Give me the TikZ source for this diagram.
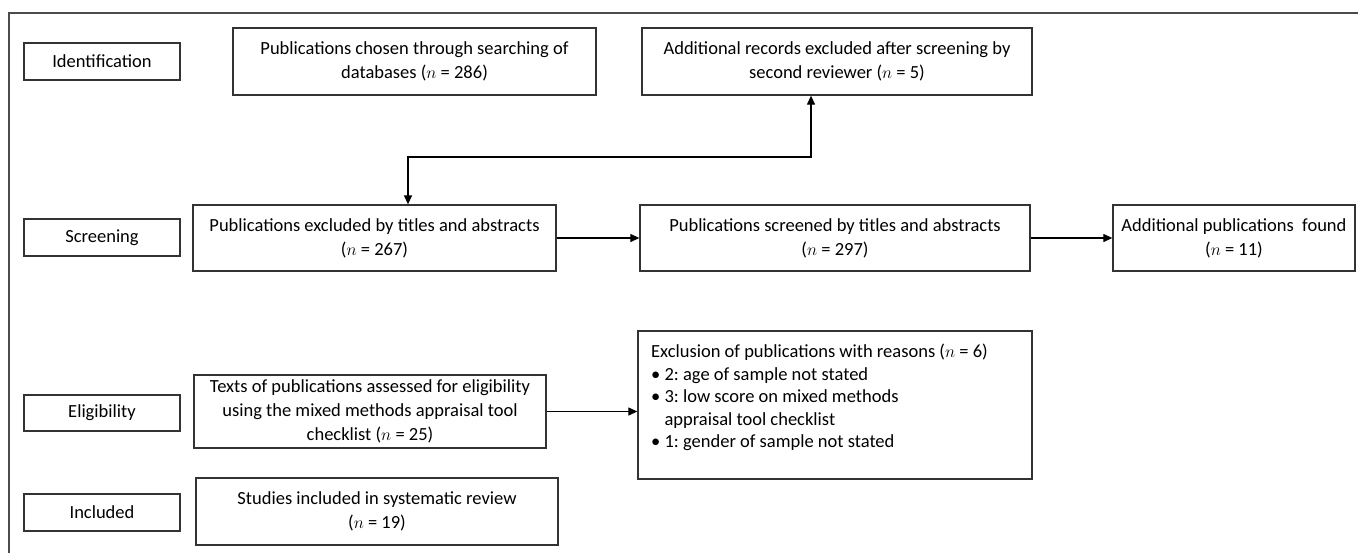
\documentclass[tikz,border=0pt]{standalone}
\usepackage{fontspec}
\setmainfont{Carlito}
\usetikzlibrary{arrows.meta}
\frenchspacing
\begin{document}
\begin{tikzpicture}[x=1pt,y=-1pt,
  base/.style={draw=black!80, line width=1.3pt, rectangle, inner sep=0pt, font=\fontsize{18.5}{24}\selectfont},
  box/.style={base, align=center},
  lbl/.style={base, align=center, minimum width=156pt, minimum height=37pt},
  txt/.style={inner sep=0pt, align=left, font=\fontsize{18.5}{22.5}\selectfont},
  frame/.style={draw=black!70, line width=1.6pt},
  arr/.style={draw=black, line width=1.2pt, -{Triangle[length=9pt,width=8pt]}},
  dbl/.style={draw=black, line width=1.2pt, {Triangle[length=9pt,width=8pt]}-{Triangle[length=9pt,width=8pt]}}
]
\useasboundingbox (0,0) rectangle (1358,552);
\draw[frame] (9,553) -- (9,13) -- (1359,13);

% stage labels
\node[lbl] (ident) at (102,61.5) {Identification};
\node[lbl] (screen) at (102,237.5) {Screening};
\node[lbl, minimum height=36pt] (elig) at (102,413) {Eligibility};
\node[lbl] (incl) at (102,512.5) {Included};

% boxes
\node[box, minimum width=363pt, minimum height=67pt] (chosen) at (414.5,61.5)
  {Publications chosen through searching of\\databases ($n$ = 286)};
\node[box, minimum width=390pt, minimum height=67pt] (addrec) at (837,61.5)
  {Additional records excluded after screening by\\second reviewer ($n$ = 5)};
\node[box, minimum width=363pt, minimum height=66pt] (excl) at (374.5,238)
  {Publications excluded by titles and abstracts\\($n$ = 267)};
\node[box, minimum width=390pt, minimum height=66pt] (screened) at (835,238)
  {Publications screened by titles and abstracts\\($n$ = 297)};
\node[box, minimum width=242pt, minimum height=66pt] (found) at (1234,238)
  {Additional publications\ \ found\\($n$ = 11)};
\node[box, minimum width=352pt, minimum height=73pt] (texts) at (370,411.5)
  {Texts of publications assessed for eligibility\\using the mixed methods appraisal tool\\checklist ($n$ = 25)};
\node[base, minimum width=394pt, minimum height=148pt] (exclusion) at (835,405) {};
\node[txt, anchor=north west] (exclusiontext) at (651,344)
  {Exclusion of publications with reasons ($n$ = 6)\\
   \textbullet\ 2: age of sample not stated\\
   \textbullet\ 3: low score on mixed methods\\
   \phantom{\textbullet\ }appraisal tool checklist\\
   \textbullet\ 1: gender of sample not stated};
\node[box, minimum width=362pt, minimum height=67pt] (studies) at (377,511.5)
  {Studies included in systematic review\\($n$ = 19)};

% connectors
\coordinate (la) at (408,157);
\coordinate (lb) at (811,157);
\draw[dbl] (excl.north -| la) -- (la) -- (lb) -- (addrec.south -| lb);
\draw[arr] (excl.east) -- (screened.west);
\draw[arr] (screened.east) -- (found.west);
\draw[arr] (texts.east) -- (texts.east -| exclusion.west);
\end{tikzpicture}
\end{document}
